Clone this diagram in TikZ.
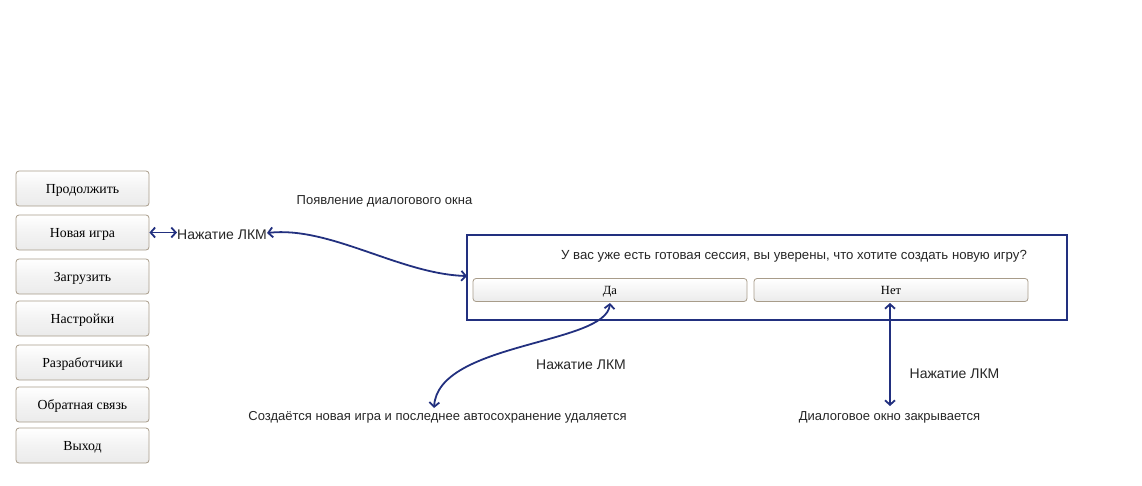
\documentclass[tikz,border=0pt]{standalone}
\usepackage{fontspec}
\setmainfont{Liberation Serif}
\setsansfont{Liberation Sans}
\usetikzlibrary{arrows.meta}
\definecolor{navy}{HTML}{22307F}
\definecolor{btnborder}{HTML}{A89C8A}
\definecolor{btnmid}{HTML}{EBEBEB}
\tikzset{
  x=1pt, y=-1pt,
  menubtn/.style={draw=btnborder, line width=0.8pt, rounded corners=3pt,
    top color=white, bottom color=btnmid, middle color=btnmid!60!white,
    minimum width=133pt, minimum height=35pt, inner sep=0pt,
    text height=10.5pt, text depth=0pt,
    font=\fontsize{13.8}{16}\selectfont},
  dlgbtn/.style={draw=btnborder, line width=0.8pt, rounded corners=3pt,
    top color=white, bottom color=btnmid,
    minimum width=274pt, minimum height=23pt, inner sep=0pt,
    text height=8.5pt, text depth=0pt,
    font=\fontsize{12.5}{14}\selectfont},
  lbl/.style={font=\sffamily\fontsize{14}{16}\selectfont, text=black!85, inner sep=0pt},
  note/.style={font=\sffamily\fontsize{13}{15}\selectfont, text=black!85, inner sep=0pt},
  conn/.style={draw=navy, line width=1.8pt, {Straight Barb[length=4.5pt,width=10pt]}-{Straight Barb[length=4.5pt,width=10pt]}},
}
\begin{document}
\begin{tikzpicture}
\useasboundingbox (0,0) rectangle (1142,485);
% menu
\node[menubtn] (b1) at (82.5,188.5) {Продолжить};
\node[menubtn] (b2) at (82.5,232.5) {Новая игра};
\node[menubtn] (b3) at (82.5,276.5) {Загрузить};
\node[menubtn] (b4) at (82.5,318.5) {Настройки};
\node[menubtn] (b5) at (82.5,362.5) {Разработчики};
\node[menubtn] (b6) at (82.5,404.5) {Обратная связь};
\node[menubtn] (b7) at (82.5,445.5) {Выход};
% dialog
\node[draw=navy, line width=2pt, minimum width=600pt, minimum height=85pt, inner sep=0pt] (dlg) at (767,277.5) {};
\node[note, font=\sffamily\fontsize{13.2}{15}\selectfont] (q) at (794,256) {У вас уже есть готовая сессия, вы уверены, что хотите создать новую игру?};
\node[dlgbtn] (da) at (610,290) {Да};
\node[dlgbtn] (net) at (891,290) {Нет};
% labels
\node[lbl, anchor=west] (l1) at (177,235) {Нажатие ЛКМ};
\node[note] (appear) at (384.5,201) {Появление диалогового окна};
\node[lbl] (l2) at (581,365) {Нажатие ЛКМ};
\node[lbl] (l3) at (954.5,374) {Нажатие ЛКМ};
\node[note] (create) at (437.5,417) {Создаётся новая игра и последнее автосохранение удаляется};
\node[note] (close) at (889.5,417) {Диалоговое окно закрывается};
\coordinate (l1e) at (267,233);
\coordinate (dlgin) at (467,276);
\coordinate (daout) at (610,303);
\coordinate (createin) at (434,408);
\coordinate (netout) at (890,303);
\coordinate (closein) at (890,406);
% connectors
\draw[conn] (b2.east) -- (l1.west |- b2.east);
\draw[conn] (l1e) .. controls (330,226) and (400,274) .. (dlgin);
\draw[conn] (daout) .. controls (606,345) and (438,342) .. (createin);
\draw[conn] (netout) -- (closein);
\end{tikzpicture}
\end{document}
